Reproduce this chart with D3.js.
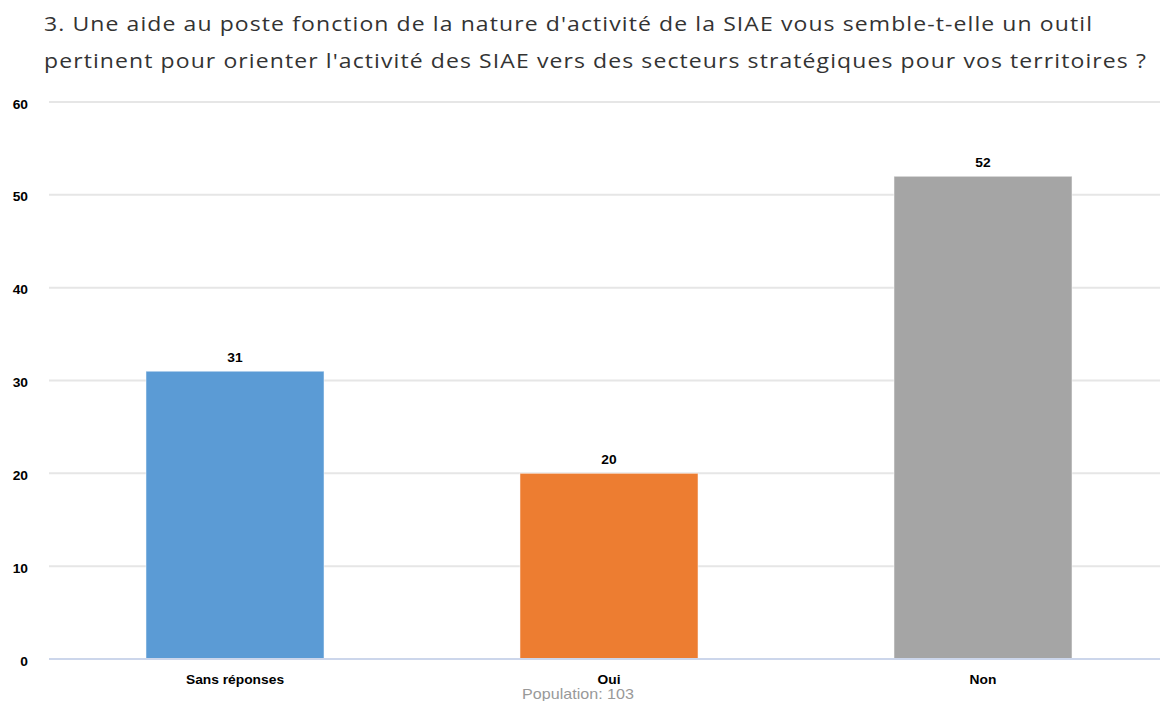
<!DOCTYPE html>
<html>
<head>
<meta charset="utf-8">
<script src="https://cdn.jsdelivr.net/npm/d3@7"></script>
<style>
  html, body { margin: 0; padding: 0; background: #fff; }
  svg { display: block; }
</style>
</head>
<body>
<svg id="chart" width="1160" height="701"></svg>
<script>
// Survey answers and counts
const categories = ["Sans réponses", "Oui", "Non"];
const counts = [31, 20, 52];
const colors = ["#5b9bd5", "#ed7d31", "#a5a5a5"];
const yTicks = [0, 10, 20, 30, 40, 50, 60];
const titleLines = [
  "3. Une aide au poste fonction de la nature d'activité de la SIAE vous semble-t-elle un outil",
  "pertinent pour orienter l'activité des SIAE vers des secteurs stratégiques pour vos territoires ?"
];
const footnote = "Population: 103";

const svg = d3.select("#chart");
const W = 1160;
const plot = { left: 48, right: 1170, top: 102, bottom: 659 };
const SX = 1.15; // horizontal text stretch
const labelFont = "'Liberation Sans', Arial, sans-serif";

// Title
svg.append("g").selectAll("g").data(titleLines).join("g")
  .attr("transform", (d, i) => `translate(44,${31 + i * 37}) scale(${SX},1)`)
  .append("text")
  .attr("font-family", "'Open Sans', sans-serif")
  .attr("font-size", 20)
  .attr("letter-spacing", 0.95)
  .attr("fill", "#333")
  .text(d => d);

const x = d3.scaleBand()
  .domain(categories)
  .range([plot.left, plot.right])
  .paddingInner(0.524)
  .paddingOuter(0.262);

const y = d3.scaleLinear()
  .domain([0, 60])
  .range([plot.bottom, plot.top]);

// Gridlines
svg.append("g").selectAll("line").data(yTicks.filter(t => t > 0)).join("line")
  .attr("x1", 49).attr("x2", W)
  .attr("y1", d => y(d)).attr("y2", d => y(d))
  .attr("stroke", "#e6e6e6")
  .attr("stroke-width", 2);

// Y axis labels
const yAxis = d3.axisLeft(y).tickValues(yTicks).tickSize(0).tickPadding(0);
const yg = svg.append("g").attr("transform", "translate(28,0)").call(yAxis);
yg.select(".domain").remove();
yg.selectAll("text")
  .attr("x", 0)
  .attr("font-family", labelFont)
  .attr("font-size", 12)
  .attr("font-weight", "bold")
  .attr("fill", "#000")
  .attr("dy", "0.5em")
  .attr("transform", `scale(${SX},1)`);

// Bars
svg.append("g").selectAll("rect").data(categories).join("rect")
  .attr("x", d => x(d))
  .attr("width", x.bandwidth())
  .attr("y", (d, i) => y(counts[i]))
  .attr("height", (d, i) => y(0) - y(counts[i]))
  .attr("fill", (d, i) => colors[i])
  .attr("stroke", "#fff")
  .attr("stroke-opacity", 0.5)
  .attr("stroke-width", 1);

// Baseline
svg.append("line")
  .attr("x1", 49).attr("x2", W)
  .attr("y1", y(0)).attr("y2", y(0))
  .attr("stroke", "#ccd6eb")
  .attr("stroke-width", 2);

// Value labels
svg.append("g").selectAll("g").data(categories).join("g")
  .attr("transform", (d, i) => `translate(${x(d) + x.bandwidth() / 2},${y(counts[i]) - 9}) scale(${SX},1)`)
  .append("text")
  .attr("text-anchor", "middle")
  .attr("font-family", labelFont)
  .attr("font-size", 12)
  .attr("font-weight", "bold")
  .attr("fill", "#000")
  .text((d, i) => counts[i]);

// Category axis
const xAxis = d3.axisBottom(x).tickSize(0).tickPadding(0);
const xg = svg.append("g").attr("transform", `translate(0,${plot.bottom + 25})`).call(xAxis);
xg.select(".domain").remove();
xg.selectAll("text")
  .attr("y", 0)
  .attr("dy", 0)
  .attr("font-family", labelFont)
  .attr("font-size", 12)
  .attr("font-weight", "bold")
  .attr("fill", "#000")
  .attr("transform", `scale(${SX},1)`);

// Footnote
svg.append("g")
  .attr("transform", `translate(578,699) scale(${SX},1)`)
  .append("text")
  .attr("text-anchor", "middle")
  .attr("font-family", labelFont)
  .attr("font-size", 14)
  .attr("fill", "#999")
  .text(footnote);
</script>
</body>
</html>
